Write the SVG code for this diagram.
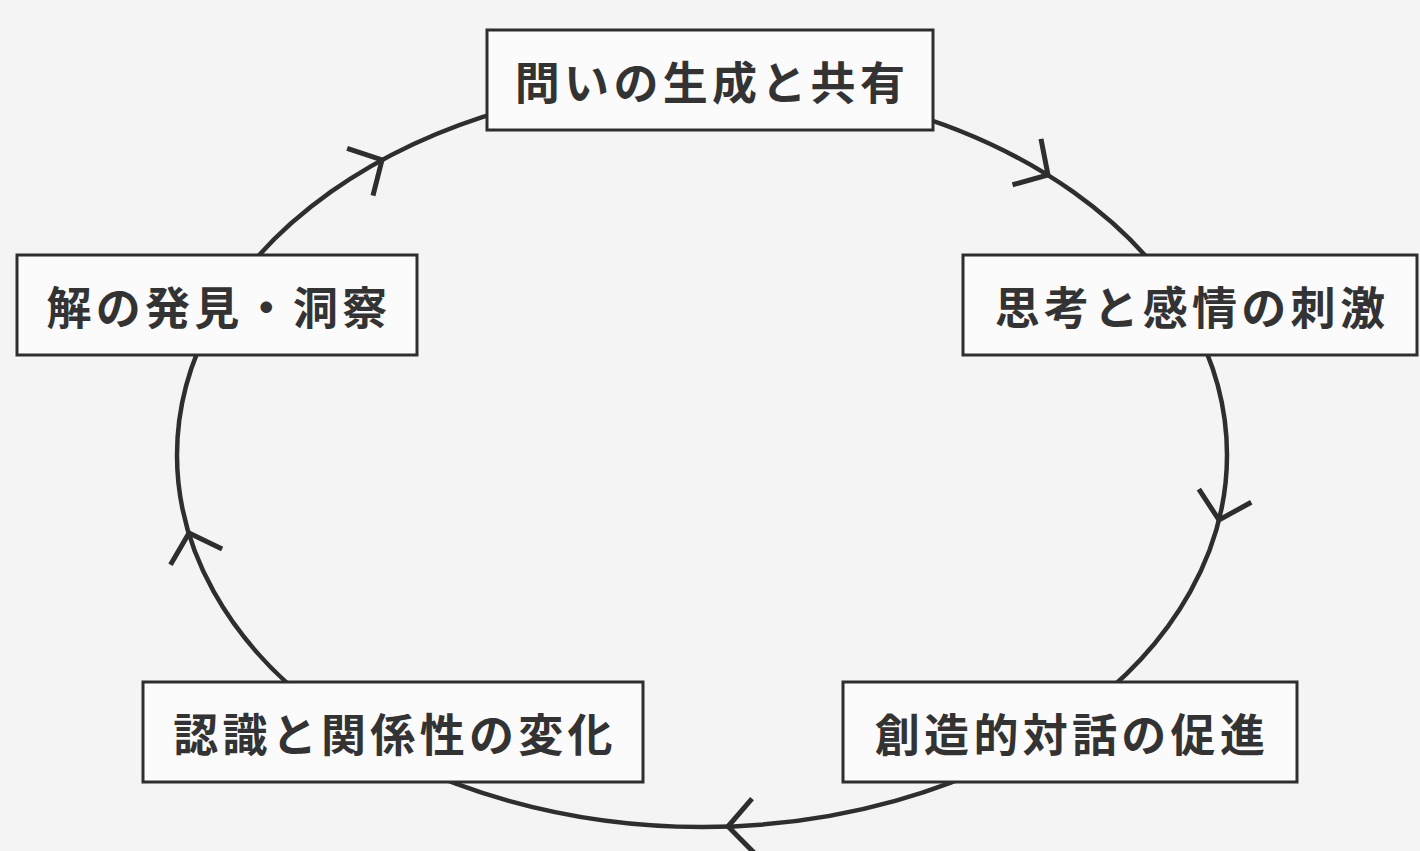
<svg xmlns="http://www.w3.org/2000/svg" xmlns:xlink="http://www.w3.org/1999/xlink" width="1420" height="851" viewBox="0 0 1420 851">
  <style>
    .cycle { fill: none; stroke: #2e2e2e; stroke-width: 4.5; }
    .chev { fill: none; stroke: #2e2e2e; stroke-width: 5; stroke-linecap: butt; stroke-linejoin: miter; }
    .box { fill: #fbfbfb; stroke: #2e2e2e; stroke-width: 3; }
    .label { font-family: "Noto Sans CJK JP", "Noto Sans CJK SC", sans-serif; font-size: 45px; font-weight: 700; fill: #333333; text-anchor: middle; dominant-baseline: central; letter-spacing: 4.3px; }
  </style>
  <defs>
    <path id="chev" class="chev" d="M-25,-27 L0,0 L-25,27"/>
  </defs>
  <rect x="0" y="0" width="1420" height="851" fill="#f4f4f4"/>

  <g id="connectors">
    <ellipse class="cycle" cx="702" cy="455" rx="525" ry="372"/>
    <use xlink:href="#chev" href="#chev" transform="translate(1048,175) rotate(31.8)"/>
    <use xlink:href="#chev" href="#chev" transform="translate(1219,520) rotate(104)"/>
    <use xlink:href="#chev" href="#chev" transform="translate(728,826.5) rotate(178)"/>
    <use xlink:href="#chev" href="#chev" transform="translate(189,533) rotate(253)"/>
    <use xlink:href="#chev" href="#chev" transform="translate(382,160) rotate(-28.6)"/>
  </g>

  <g id="node-top">
    <rect class="box" x="487" y="30" width="446" height="100"/>
    <text class="label" x="712" y="80">問いの生成と共有</text>
  </g>
  <g id="node-right">
    <rect class="box" x="963" y="255" width="454" height="100"/>
    <text class="label" x="1192" y="305">思考と感情の刺激</text>
  </g>
  <g id="node-bottom-right">
    <rect class="box" x="843" y="682" width="454" height="100"/>
    <text class="label" x="1072" y="732">創造的対話の促進</text>
  </g>
  <g id="node-bottom-left">
    <rect class="box" x="143" y="682" width="500" height="100"/>
    <text class="label" x="395" y="732">認識と関係性の変化</text>
  </g>
  <g id="node-left">
    <rect class="box" x="17" y="255" width="400" height="100"/>
    <text class="label" x="219" y="305">解の発見・洞察</text>
  </g>
</svg>
